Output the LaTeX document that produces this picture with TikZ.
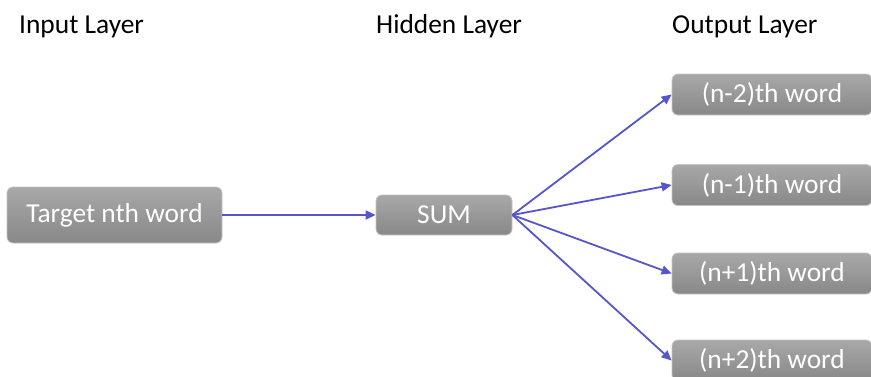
\documentclass[tikz,border=0pt]{standalone}
\usepackage{fontspec}
\setmainfont{Carlito}
\usetikzlibrary{arrows.meta}
\definecolor{linkblue}{RGB}{86,86,204}
\definecolor{boxtop}{RGB}{168,168,168}
\definecolor{boxbot}{RGB}{136,136,136}
\definecolor{boxedge}{RGB}{196,196,196}
\tikzset{
  wordbox/.style={rectangle, rounded corners=6pt, draw=boxedge, line width=0.8pt,
    top color=boxtop, bottom color=boxbot, text=white, inner sep=0pt,
    font=\fontsize{27.4}{30}\selectfont},
  layertitle/.style={anchor=base west, inner sep=0pt, text=black,
    font=\fontsize{27.4}{30}\selectfont},
  link/.style={draw=linkblue, line width=1.8pt, -{Triangle[length=10pt,width=9pt]}}
}
\begin{document}
\begin{tikzpicture}[x=1pt,y=-1pt]
  \useasboundingbox (0,0) rectangle (871,376);
  \clip (0,0) rectangle (871,376);
  \fill[white] (0,0) rectangle (871,376);

  % layer headings
  \node[layertitle] (tin)  at (19,33)  {Input Layer};
  \node[layertitle] (thid) at (376,33) {Hidden Layer};
  \node[layertitle] (tout) at (672,33) {Output Layer};

  % boxes
  \node[wordbox, minimum width=215pt, minimum height=56pt] (target) at (114.5,215) {Target nth word};
  \node[wordbox, minimum width=136pt, minimum height=40pt] (sum) at (444,215) {SUM};
  \node[wordbox, minimum width=200pt, minimum height=41pt] (wm2) at (772,94.5)  {(n-2)th word};
  \node[wordbox, minimum width=200pt, minimum height=41pt] (wm1) at (772,185)   {(n-1)th word};
  \node[wordbox, minimum width=200pt, minimum height=41pt] (wp1) at (772,273.5) {(n+1)th word};
  \node[wordbox, minimum width=200pt, minimum height=41pt] (wp2) at (772,360.5) {(n+2)th word};

  % connections
  \draw[link] (target.east) -- (sum.west);
  \draw[link] (sum.east) -- (wm2.west);
  \draw[link] (sum.east) -- (wm1.west);
  \draw[link] (sum.east) -- (wp1.west);
  \draw[link] (sum.east) -- (wp2.west);
\end{tikzpicture}
\end{document}
